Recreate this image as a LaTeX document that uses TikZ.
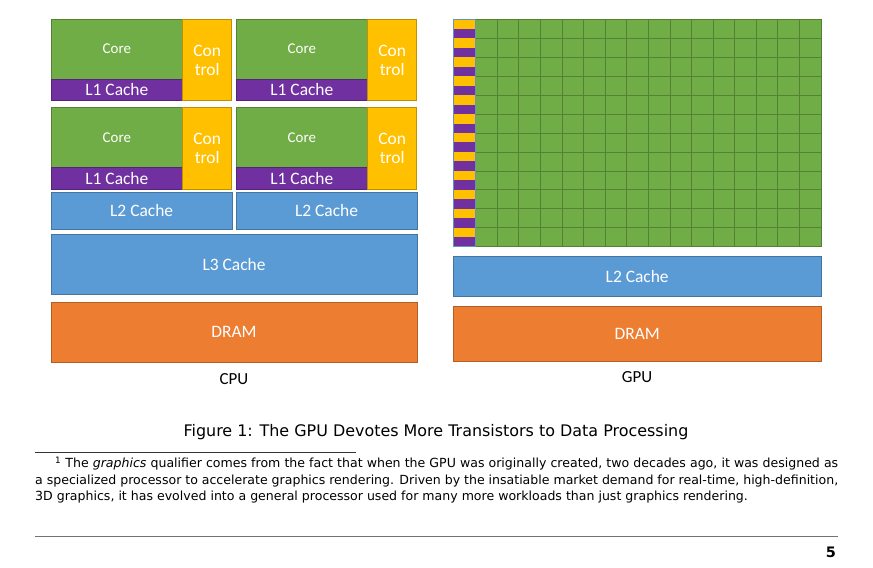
\documentclass[tikz,border=0pt]{standalone}
\usepackage{fontspec}
\setmainfont{DejaVu Sans}
\newfontfamily\boxfont{Carlito}
\definecolor{coreg}{HTML}{70AD47}
\definecolor{ctrly}{HTML}{FFC000}
\definecolor{lonep}{HTML}{7030A0}
\definecolor{cacheb}{HTML}{5B9BD5}
\definecolor{dramo}{HTML}{ED7D31}
\definecolor{gridg}{HTML}{548235}
\tikzset{
  blk/.style={draw=#1!75!black, fill=#1, line width=0.6pt, inner sep=0pt, outer sep=0pt,
    anchor=north west, text=white, font=\boxfont\fontsize{17.5}{19}\selectfont},
  gridline/.style={draw=gridg, line width=0.8pt},
  lbl/.style={font=\boxfont\fontsize{17}{19}\selectfont},
  fnline/.style={anchor=base west, inner sep=0pt, font=\fontsize{12.6}{14}\selectfont}
}
% one CPU core: core, L1 cache and control
\newcommand{\cpucore}[3]{%
  \node[blk=coreg, minimum width=131.7bp, minimum height=59.7bp,
    font=\boxfont\fontsize{15}{17}\selectfont] (#1core) at (#2,#3) {Core};
  \node[blk=lonep, minimum width=131.7bp, minimum height=21.7bp] (#1lone) at (#1core.south west) {L1 Cache};
  \node[blk=ctrly, minimum width=49bp, minimum height=81.4bp, align=center] (#1ctrl) at (#1core.north east) {Con\\trol};
}
\begin{document}
\begin{tikzpicture}[x=1bp, y=-1bp]
\useasboundingbox[fill=white] (0,0) rectangle (873,568);
% CPU
\cpucore{a}{51}{19.3}
\cpucore{b}{236}{19.3}
\cpucore{c}{51}{107.7}
\cpucore{d}{236}{107.7}
\node[blk=cacheb, minimum width=181.3bp, minimum height=37bp] (cpultwoa) at (51,192.3) {L2 Cache};
\node[blk=cacheb, minimum width=181bp, minimum height=37bp] (cpultwob) at (236,192.3) {L2 Cache};
\node[blk=cacheb, minimum width=366bp, minimum height=59.7bp] (cpulthree) at (51,234.3) {L3 Cache};
\node[blk=dramo, minimum width=366bp, minimum height=59.3bp] (cpudram) at (51,302.7) {DRAM};
\node[lbl] (cpulabel) at (234,379) {CPU};
% GPU
\node[blk=coreg, draw=gridg, minimum width=345.3bp, minimum height=227.4bp] (gpucores) at (475.7,19.3) {};
\foreach \j in {1,...,15}
  \draw[gridline] (475.7+\j*21.58,19.3) -- ++(0,227.4);
\foreach \i in {1,...,11}
  \draw[gridline] (475.7,19.3+\i*18.95) -- ++(345.3,0);
\foreach \i in {0,...,11}{
  \fill[ctrly] (453.3,19.3+\i*18.95) rectangle ++(22.4,9.47);
  \fill[lonep] (453.3,28.77+\i*18.95) rectangle ++(22.4,9.48);
}
\draw[cacheb!70!gray, line width=0.6pt] (453.3,19.3) rectangle (475.7,246.7);
\node[blk=cacheb, minimum width=367.7bp, minimum height=40bp] (gpultwo) at (453.3,256.7) {L2 Cache};
\node[blk=dramo, minimum width=367.7bp, minimum height=55bp] (gpudram) at (453.3,306.7) {DRAM};
\node[lbl] (gpulabel) at (637,377) {GPU};
% caption, footnote and page foot
\node[font=\fontsize{16}{18}\selectfont] (caption) at (436,432) {Figure 1: The GPU Devotes More Transistors to Data Processing};
\draw[black!80, line width=0.6pt] (35,452.3) -- (356,452.3);
\node[fnline] (fnone) at (55,467.5) {\makebox[783bp][s]{\textsuperscript{1} The \textit{graphics} qualifier comes from the fact that when the GPU was originally created, two decades ago, it was designed as}};
\node[fnline] (fntwo) at (35,484) {\makebox[803bp][s]{a specialized processor to accelerate graphics rendering. Driven by the insatiable market demand for real-time, high-definition,}};
\node[fnline] (fnthree) at (35,500.5) {3D graphics, it has evolved into a general processor used for many more workloads than just graphics rendering.};
\draw[black!55, line width=1pt] (35,536) -- (838,536);
\node[font=\bfseries\fontsize{14.5}{16}\selectfont] (pagenum) at (831,552) {5};
\end{tikzpicture}
\end{document}
